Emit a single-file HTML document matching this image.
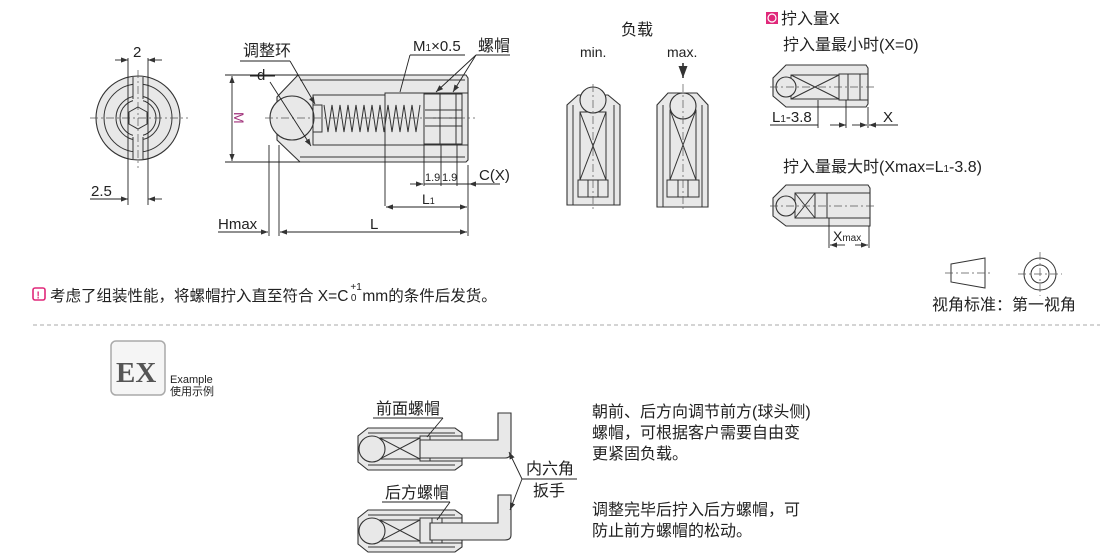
<!DOCTYPE html>
<html><head><meta charset="utf-8"><style>
html,body{margin:0;padding:0;background:#fff;}
svg{display:block;font-family:"Liberation Sans","Noto Sans CJK SC",sans-serif;}
text{fill:#222;}
.o{fill:#e8e8e8;stroke:#333;stroke-width:1.1}
.l{fill:none;stroke:#333;stroke-width:1}
.c{fill:none;stroke:#555;stroke-width:0.7;stroke-dasharray:8 3 2 3}
.d{fill:none;stroke:#222;stroke-width:0.9}
</style></head><body>
<svg width="1110" height="554" viewBox="0 0 1110 554">
<defs><marker id="a" markerWidth="8" markerHeight="6" refX="8" refY="3" orient="auto"><path d="M0,0L8,3L0,6z" fill="#333"/></marker></defs>

<!-- front view -->
<circle cx="138" cy="118" r="42" class="o"/>
<circle cx="138" cy="118" r="34" class="l"/>
<circle cx="138" cy="118" r="22" class="l"/>
<circle cx="138" cy="118" r="18" class="l"/>
<rect x="133" y="77" width="10" height="82" fill="#e8e8e8" stroke="none"/>
<line x1="133" y1="77" x2="133" y2="99" class="l"/><line x1="143" y1="77" x2="143" y2="99" class="l"/>
<line x1="133" y1="137" x2="133" y2="159" class="l"/><line x1="143" y1="137" x2="143" y2="159" class="l"/>
<polygon points="138,107 147,112 147,124 138,129 129,124 129,112" class="l"/>
<line x1="90" y1="118" x2="188" y2="118" class="c"/>
<line x1="138" y1="70" x2="138" y2="168" class="c"/>
<line x1="128" y1="58" x2="128" y2="205" class="d"/><line x1="148" y1="58" x2="148" y2="205" class="d"/>
<line x1="115" y1="60" x2="128" y2="60" class="d" marker-end="url(#a)"/><line x1="162" y1="60" x2="148" y2="60" class="d" marker-end="url(#a)"/>
<text x="133" y="57" font-size="15">2</text>
<line x1="90" y1="199" x2="128" y2="199" class="d" marker-end="url(#a)"/><line x1="162" y1="199" x2="148" y2="199" class="d" marker-end="url(#a)"/>
<text x="91" y="196" font-size="15">2.5</text>

<!-- side view -->
<polygon points="298,75 466,75 468,78 468,160 466,162 300,162 277,140 277,97" class="o"/>
<line x1="300" y1="80" x2="465" y2="80" class="l"/><line x1="300" y1="157" x2="465" y2="157" class="l"/>
<rect x="313" y="95" width="72" height="50" class="l"/>
<rect x="385" y="93" width="83" height="52" class="l"/>
<circle cx="292" cy="118" r="22" class="o"/>
<rect x="313" y="105" width="9" height="27" class="l"/>
<polyline points="324,105 328,132 332,105 336,132 340,105 344,132 348,105 352,132 356,105 360,132 364,105 368,132 372,105 376,132 380,105 384,132 388,105 392,132 396,105 400,132 404,105 408,132 412,105 416,132 420,105" class="l"/>
<rect x="424" y="94" width="38" height="50" class="l"/>
<line x1="440" y1="94" x2="440" y2="144" class="l"/><line x1="456" y1="94" x2="456" y2="144" class="l"/>
<line x1="425" y1="110" x2="462" y2="110" class="l"/><line x1="425" y1="118" x2="462" y2="118" class="l"/><line x1="425" y1="126" x2="462" y2="126" class="l"/>
<line x1="265" y1="118" x2="475" y2="118" class="c"/>
<!-- dims -->
<line x1="225" y1="75" x2="298" y2="75" class="d"/><line x1="225" y1="162" x2="300" y2="162" class="d"/>
<line x1="232" y1="85" x2="232" y2="76" class="d" marker-end="url(#a)"/><line x1="232" y1="150" x2="232" y2="161" class="d" marker-end="url(#a)"/>
<line x1="232" y1="85" x2="232" y2="150" class="d"/>
<text x="234" y="112" font-size="14" style="fill:#a0307a" transform="rotate(90 234 112)">M</text>
<line x1="250" y1="76" x2="275" y2="76" class="d"/>
<text x="257" y="80" font-size="15">d</text>
<line x1="270" y1="82" x2="311" y2="146" class="d" marker-end="url(#a)"/>
<text x="243" y="56" font-size="16">调整环</text>
<line x1="240" y1="61" x2="290" y2="61" class="d"/><line x1="290" y1="61" x2="315" y2="104" class="d" marker-end="url(#a)"/>
<text x="413" y="51" font-size="15">M<tspan font-size="10">1</tspan>×0.5</text>
<line x1="410" y1="55" x2="465" y2="55" class="d"/><line x1="410" y1="55" x2="400" y2="92" class="d"/>
<text x="478" y="51" font-size="16">螺帽</text>
<line x1="476" y1="55" x2="510" y2="55" class="d"/>
<line x1="476" y1="55" x2="436" y2="92" class="d" marker-end="url(#a)"/><line x1="476" y1="55" x2="453" y2="92" class="d" marker-end="url(#a)"/>
<line x1="269" y1="145" x2="269" y2="236" class="d"/><line x1="279" y1="145" x2="279" y2="236" class="d"/>
<line x1="218" y1="232" x2="268" y2="232" class="d" marker-end="url(#a)"/>
<text x="218" y="229" font-size="15">Hmax</text>
<line x1="280" y1="232" x2="466" y2="232" class="d"/>
<line x1="300" y1="232" x2="280" y2="232" class="d" marker-end="url(#a)"/><line x1="450" y1="232" x2="467" y2="232" class="d" marker-end="url(#a)"/>
<text x="370" y="229" font-size="15">L</text>
<line x1="468" y1="165" x2="468" y2="236" class="d"/>
<line x1="385" y1="145" x2="385" y2="206" class="d"/>
<line x1="386" y1="207" x2="466" y2="207" class="d"/>
<line x1="405" y1="207" x2="386" y2="207" class="d" marker-end="url(#a)"/><line x1="450" y1="207" x2="467" y2="207" class="d" marker-end="url(#a)"/>
<text x="422" y="204" font-size="14">L<tspan font-size="9">1</tspan></text>
<line x1="424" y1="145" x2="424" y2="186" class="d"/><line x1="441" y1="145" x2="441" y2="186" class="d"/><line x1="457" y1="145" x2="457" y2="186" class="d"/>
<line x1="410" y1="184" x2="423" y2="184" class="d" marker-end="url(#a)"/><line x1="424" y1="184" x2="500" y2="184" class="d"/>
<line x1="500" y1="184" x2="469" y2="184" class="d" marker-end="url(#a)"/>
<text x="425" y="181" font-size="11">1.9</text><text x="442" y="181" font-size="11">1.9</text>
<text x="479" y="180" font-size="15">C(X)</text>

<!-- load min/max -->
<text x="621" y="35" font-size="16">负载</text>
<text x="580" y="57" font-size="14">min.</text><text x="667" y="57" font-size="14">max.</text>
<line x1="683" y1="63" x2="683" y2="78" stroke="#222" stroke-width="1.5" marker-end="url(#a)"/>
<polygon points="578,95 608,95 620,105 620,205 567,205 567,105" class="o"/>
<polygon points="668,93 697,93 708,105 708,207 657,207 657,105" class="o"/>
<g class="l">
<line x1="573" y1="105" x2="573" y2="205"/><line x1="614" y1="105" x2="614" y2="205"/>
<rect x="580" y="112" width="26" height="68"/><rect x="578" y="180" width="30" height="17"/>
<line x1="588" y1="180" x2="588" y2="197"/><line x1="598" y1="180" x2="598" y2="197"/>
<line x1="580" y1="112" x2="606" y2="180"/><line x1="606" y1="112" x2="580" y2="180"/>
<line x1="663" y1="105" x2="663" y2="207"/><line x1="702" y1="105" x2="702" y2="207"/>
<rect x="670" y="110" width="26" height="70"/><rect x="667" y="180" width="32" height="17"/>
<line x1="678" y1="180" x2="678" y2="197"/><line x1="688" y1="180" x2="688" y2="197"/>
<line x1="670" y1="110" x2="696" y2="180"/><line x1="696" y1="110" x2="670" y2="180"/>
</g>
<circle cx="593" cy="100" r="13" class="o"/><circle cx="683" cy="106" r="13" class="o"/>
<line x1="593" y1="84" x2="593" y2="210" class="c"/><line x1="683" y1="84" x2="683" y2="210" class="c"/>

<!-- screw-in amount -->
<rect x="766" y="12" width="12" height="12" fill="#e0287a"/><circle cx="772" cy="18" r="4" fill="none" stroke="#fff" stroke-width="1.2"/>
<text x="781" y="24" font-size="16">拧入量X</text>
<text x="783" y="50" font-size="16">拧入量最小时(X=0)</text>
<polygon points="786,65 866,65 868,68 868,104 866,107 786,107 773,96 773,78" class="o"/>
<rect x="791" y="75" width="48" height="24" class="l"/><rect x="839" y="74" width="29" height="26" class="l"/>
<line x1="848" y1="74" x2="848" y2="100" class="l"/><line x1="860" y1="74" x2="860" y2="100" class="l"/>
<line x1="791" y1="75" x2="839" y2="99" class="l"/><line x1="839" y1="75" x2="791" y2="99" class="l"/>
<circle cx="786" cy="87" r="10" class="o"/>
<line x1="770" y1="87" x2="874" y2="87" class="c"/>
<line x1="818" y1="100" x2="818" y2="128" class="d"/><line x1="846" y1="100" x2="846" y2="128" class="d"/><line x1="868" y1="107" x2="868" y2="128" class="d"/>
<line x1="770" y1="125" x2="818" y2="125" class="d"/>
<line x1="830" y1="125" x2="846" y2="125" class="d" marker-end="url(#a)"/>
<line x1="852" y1="125" x2="867" y2="125" class="d" marker-end="url(#a)"/>
<line x1="898" y1="125" x2="869" y2="125" class="d" marker-end="url(#a)"/>
<text x="772" y="122" font-size="15">L<tspan font-size="10">1</tspan>-3.8</text>
<text x="883" y="122" font-size="15">X</text>
<text x="783" y="172" font-size="16">拧入量最大时(Xmax=L<tspan font-size="10">1</tspan>-3.8)</text>
<polygon points="786,185 868,185 870,188 870,226 786,226 773,216 773,198" class="o"/>
<rect x="795" y="193" width="75" height="25" class="l"/>
<rect x="815" y="193" width="12" height="25" class="l"/>
<line x1="795" y1="193" x2="815" y2="218" class="l"/><line x1="815" y1="193" x2="795" y2="218" class="l"/>
<circle cx="786" cy="206" r="10" class="o"/>
<line x1="770" y1="206" x2="876" y2="206" class="c"/>
<line x1="829" y1="218" x2="829" y2="248" class="d"/><line x1="869" y1="226" x2="869" y2="248" class="d"/>
<line x1="845" y1="245" x2="830" y2="245" class="d" marker-end="url(#a)"/><line x1="855" y1="245" x2="868" y2="245" class="d" marker-end="url(#a)"/>
<text x="833" y="241" font-size="14">X<tspan font-size="10">max</tspan></text>

<!-- projection symbol -->
<polygon points="951,264 985,258 985,288 951,282" fill="none" stroke="#333"/>
<line x1="945" y1="273" x2="992" y2="273" class="c"/>
<circle cx="1040" cy="274" r="16" fill="none" stroke="#333"/><circle cx="1040" cy="274" r="9" fill="none" stroke="#333"/>
<line x1="1018" y1="274" x2="1062" y2="274" class="c"/><line x1="1040" y1="252" x2="1040" y2="296" class="c"/>
<text x="932" y="310" font-size="16">视角标准：第一视角</text>

<!-- notice -->
<rect x="33" y="288" width="12" height="12" rx="2" fill="#fff" stroke="#e0287a" stroke-width="1.6"/>
<text x="36.5" y="298.5" font-size="10" font-weight="bold" style="fill:#e0287a">!</text>
<text x="50" y="301" font-size="15.5">考虑了组装性能，将螺帽拧入直至符合 X=C<tspan font-size="10" dy="-11" dx="2">+1</tspan><tspan font-size="10" dy="11" dx="-11">0</tspan><tspan dx="6">mm的条件后发货。</tspan></text>
<line x1="33" y1="325" x2="1100" y2="325" stroke="#aaa" stroke-width="1" stroke-dasharray="4 3"/>

<!-- EX -->
<rect x="111" y="341" width="54" height="54" rx="5" fill="#f5f5f5" stroke="#aaa" stroke-width="1.5"/>
<text x="116" y="382" font-size="29" font-weight="bold" font-family="Liberation Serif,serif" style="fill:#555">EX</text>
<text x="170" y="383" font-size="11">Example</text>
<text x="170" y="395" font-size="11">使用示例</text>

<!-- examples -->
<g>
<polygon points="368,428 455,428 462,433 462,465 455,470 368,470 358,462 358,436" class="o"/>
<line x1="368" y1="433" x2="455" y2="433" class="l"/><line x1="368" y1="465" x2="455" y2="465" class="l"/>
<rect x="380" y="438" width="40" height="21" class="l"/><rect x="420" y="436" width="42" height="25" class="l"/>
<rect x="420" y="436" width="10" height="25" class="l"/>
<line x1="380" y1="438" x2="420" y2="459" class="l"/><line x1="420" y1="438" x2="380" y2="459" class="l"/>
<circle cx="372" cy="449" r="13" class="o"/>
<path d="M420,440 H498 V413 H511 V452 Q511,458 505,458 H420 Z" class="o"/>
<text x="376" y="414" font-size="16">前面螺帽</text>
<line x1="373" y1="418" x2="443" y2="418" class="d"/><line x1="443" y1="418" x2="427" y2="437" class="d"/>

<polygon points="368,510 455,510 462,515 462,547 455,552 368,552 358,544 358,518" class="o"/>
<line x1="368" y1="515" x2="455" y2="515" class="l"/><line x1="368" y1="547" x2="455" y2="547" class="l"/>
<rect x="380" y="520" width="40" height="21" class="l"/><rect x="420" y="518" width="42" height="25" class="l"/>
<rect x="432" y="518" width="10" height="25" class="l"/>
<line x1="380" y1="520" x2="420" y2="541" class="l"/><line x1="420" y1="520" x2="380" y2="541" class="l"/>
<circle cx="372" cy="531" r="13" class="o"/>
<path d="M430,523 H498 V495 H511 V535 Q511,540 505,540 H430 Z" class="o"/>
<text x="385" y="498" font-size="16">后方螺帽</text>
<line x1="382" y1="502" x2="450" y2="502" class="d"/><line x1="450" y1="502" x2="437" y2="520" class="d"/>

<text x="526" y="474" font-size="16">内六角</text>
<text x="533" y="496" font-size="16">扳手</text>
<line x1="522" y1="479" x2="577" y2="479" class="d"/>
<line x1="522" y1="479" x2="509" y2="452" class="d" marker-end="url(#a)"/>
<line x1="522" y1="479" x2="510" y2="510" class="d" marker-end="url(#a)"/>

<text x="592" y="417" font-size="16">朝前、后方向调节前方(球头侧)</text>
<text x="592" y="438" font-size="16">螺帽，可根据客户需要自由变</text>
<text x="592" y="459" font-size="16">更紧固负载。</text>
<text x="592" y="515" font-size="16">调整完毕后拧入后方螺帽，可</text>
<text x="592" y="536" font-size="16">防止前方螺帽的松动。</text>
</g>
</svg>
</body></html>
